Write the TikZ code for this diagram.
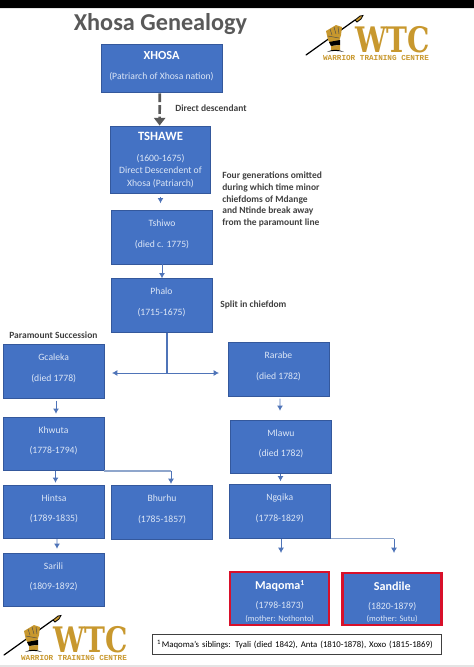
\documentclass[tikz,border=0pt]{standalone}
\usepackage{fontspec}
\setmainfont{Carlito}
\newfontfamily\slabfont{DejaVu Serif}[BoldFont={DejaVu Serif Bold}]
\newfontfamily\subfont{Liberation Mono}
\usetikzlibrary{arrows.meta,calc}
\definecolor{BoxClr}{HTML}{4472C4}
\definecolor{EdgeClr}{HTML}{34589C}
\definecolor{TextClr}{HTML}{DCE6F6}
\definecolor{ArrowClr}{HTML}{4F74B8}
\definecolor{PaleClr}{HTML}{8FA6CC}
\definecolor{GoldClr}{HTML}{C8982E}
\definecolor{InkClr}{HTML}{404040}
\definecolor{HeadClr}{HTML}{595959}
\definecolor{BandClr}{HTML}{E4E4E4}
\definecolor{RedClr}{HTML}{D8102A}
\tikzset{
  chief/.style={draw=EdgeClr,line width=.5pt,fill=BoxClr,text=TextClr,minimum width=2.02cm,minimum height=1.07cm,
    inner sep=0pt,align=center,text depth=4.4pt,font=\fontsize{5.5}{11.4}\selectfont},
  heir/.style={chief,draw=RedClr,line width=1.4pt,minimum width=1.98cm,minimum height=1.05cm,text height=26pt,text depth=0pt},
  remark/.style={text=InkClr,inner sep=0pt,anchor=west,align=left,font=\fontsize{5.4}{6.6}\selectfont\bfseries},
  tip/.style={draw=ArrowClr,line width=.55pt,-{Latex[length=3pt,width=3.4pt]}},
  palelink/.style={draw=PaleClr,line width=.8pt},
  wtc logo/.pic={
    \draw[black,line width=.7pt,line cap=round] (0,0) -- (49,-35);
    \fill[GoldClr] (49,-35) -- (54,-39) -- (57,-39.5) -- (55,-36) -- (51,-33) -- cycle;
    \draw[black,line width=.45pt] (49,-35) -- (54,-39) -- (57,-39.5) -- (55,-36) -- (51,-33) -- cycle;
    \fill[GoldClr] (20,-24) -- (30,-30) -- (36,-28) -- (35,-20) -- (33,-13) -- (25,-11) -- (22,-15) -- cycle;
    \draw[black!70,line width=.25pt] (24,-26) -- (26,-20) (28,-28) -- (30,-21) (32,-28) -- (33,-21) (22,-19) -- (33,-17);
    \fill[black] (23,-13) -- (34,-15) -- (34,-10) -- (25,-9) -- cycle;
    \fill[GoldClr] (25,-9) -- (34,-10) -- (34,-5) -- (25,-5) -- cycle;
    \fill[black] (21,-3) .. controls (26,-6) and (32,-6) .. (38,-3) .. controls (32,-4.5) and (26,-4.5) .. (21,-3) -- cycle;
    \node[anchor=center,inner sep=0pt,text=GoldClr,xscale=.8,transform shape,font=\fontsize{20}{20}\selectfont\slabfont\bfseries] (mark) at (86.5,-15) {WTC};
    \node[anchor=center,inner sep=0pt,text=GoldClr,font=\fontsize{4.36}{6}\selectfont\subfont\bfseries] (motto) at (70,2.5) {WARRIOR TRAINING CENTRE};
  }
}
\begin{document}
\begin{tikzpicture}[x=.02cm,y=-.02cm]
\useasboundingbox (0,0) rectangle (474,667);
\fill[black] (0,0) rectangle (474,8);
\fill[BandClr] (0,8) rectangle (474,9);
\fill[BandClr] (0,665) rectangle (474,667);

\node[inner sep=0pt,text=HeadClr,font=\fontsize{13.8}{16}\selectfont\bfseries] (title) at (160.5,24.5) {Xhosa Genealogy};

\node[chief,minimum width=2.42cm,minimum height=.96cm,text depth=2.5pt] (xhosa) at (161.5,68) {{\fontsize{7}{11.4}\selectfont\bfseries\color{white} XHOSA}\\(Patriarch of Xhosa nation)};
\node[chief,minimum width=2cm,minimum height=1.34cm,text depth=0pt,font=\fontsize{5.5}{7.2}\selectfont] (tshawe) at (160.5,159.5) {{\fontsize{7.2}{7.2}\selectfont\bfseries\color{white} TSHAWE}\\[4.4pt](1600-1675)\\Direct Descendent of\\Xhosa (Patriarch)};
\node[chief] (tshiwo) at (162,237.5) {Tshiwo\\(died c. 1775)};
\node[chief] (phalo) at (161.5,305.5) {Phalo\\(1715-1675)};
\node[chief] (gcaleka) at (53.7,371.5) {Gcaleka\\(died 1778)};
\node[chief] (rarabe) at (278.5,369.5) {Rarabe\\(died 1782)};
\node[chief] (khwuta) at (53.5,444) {Khwuta\\(1778-1794)};
\node[chief] (mlawu) at (281,447) {Mlawu\\(died 1782)};
\node[chief] (hintsa) at (54,512) {Hintsa\\(1789-1835)};
\node[chief] (bhurhu) at (162,512.5) {Bhurhu\\(1785-1857)};
\node[chief] (ngqika) at (279.7,511.5) {Ngqika\\(1778-1829)};
\node[chief] (sarili) at (53.5,580) {Sarili\\(1809-1892)};
\node[heir,font=\fontsize{5.5}{7.2}\selectfont] (maqoma) at (279.7,598.5) {{\fontsize{6.9}{7.2}\selectfont\bfseries\color{white} Maqoma\raisebox{2.4pt}{\fontsize{4.4}{5}\selectfont 1}}\\[3.5pt](1798-1873)\\{\fontsize{4.8}{6}\selectfont(mother: Nothonto)}};
\node[heir,font=\fontsize{5.5}{7.2}\selectfont] (sandile) at (392.2,599) {{\fontsize{6.9}{7.2}\selectfont\bfseries\color{white} Sandile}\\[3.5pt](1820-1879)\\{\fontsize{4.8}{6}\selectfont(mother: Sutu)}};

\node[remark] (descent) at (175,108.5) {Direct descendant};
\node[remark] (omitted) at (222,199.5) {Four generations omitted\\during which time minor\\chiefdoms of Mdange\\and Ntinde break away\\from the paramount line};
\node[remark] (split) at (220,304.5) {Split in chiefdom};
\node[remark] (paramount) at (9,335.5) {Paramount Succession};

\node[draw=InkClr,line width=.5pt,fill=white,text width=5.6cm,align=left,inner xsep=.09cm,inner ysep=0pt,minimum height=.39cm,text=black,font=\fontsize{5}{6}\selectfont] (siblings) at (297,644.5) {\raisebox{1.8pt}{\fontsize{3.8}{4}\selectfont 1}\,Maqoma's siblings: Tyali (died 1842), Anta (1810-1878), Xoxo (1815-1869)};

\draw[HeadClr,line width=1.5pt,dash pattern=on 5pt off 1.6pt,-{Triangle[length=4.4pt,width=6.4pt]}] ([xshift=-1pt]xhosa.south) ++(0,1) -- ([xshift=-.5pt]tshawe.north);
\draw[tip] ([yshift=-2pt]tshawe.south) -- ([yshift=4pt]tshiwo.north-|tshawe.south);
\draw[tip] (tshiwo) ++(0,26.5) -- (phalo.north-|tshiwo);

\coordinate (fork) at (167,373);
\coordinate (forkL) at (112,373);
\coordinate (forkR) at (219,373);
\draw[ArrowClr,line width=.7pt] (phalo.south-|fork) -- (fork);
\draw[tip,{Latex[length=3pt,width=3.4pt]}-{Latex[length=3pt,width=3.4pt]}] (forkL) -- (forkR);

\draw[tip] ($(gcaleka.south)+(2.3,2)$) -- ($(khwuta.north)+(2.5,-3)$);
\draw[tip] ($(khwuta.south)+(2,0)$) -- ($(hintsa.north)+(1.5,-2)$);
\draw[tip] ($(hintsa.south)+(3,0)$) -- ($(sarili.north)+(3.5,-4)$);
\draw[tip] ($(rarabe.south)+(1.5,2)$) -- ($(mlawu.north)+(-1,-9)$);
\draw[tip] ($(mlawu.south)+(-.5,0)$) -- ($(ngqika.north)+(.8,-3)$);

\coordinate (khwutaEnd) at (171,484);
\coordinate (ngqikaL) at (281,553);
\coordinate (ngqikaR) at (394,553);
\draw[palelink] (khwuta.south east) -- (khwuta.south east-|khwutaEnd);
\draw[tip] (khwuta.south east-|khwutaEnd) -- (khwutaEnd);
\draw[tip] (ngqika.south-|ngqikaL) -- (ngqikaL);
\draw[palelink] (ngqika.south east) -- (ngqika.south east-|ngqikaR);
\draw[tip] (ngqika.south east-|ngqikaR) -- (ngqikaR);

\pic (upper) at (306,55) {wtc logo};
\pic (lower) at (4,655) {wtc logo};
\end{tikzpicture}
\end{document}
